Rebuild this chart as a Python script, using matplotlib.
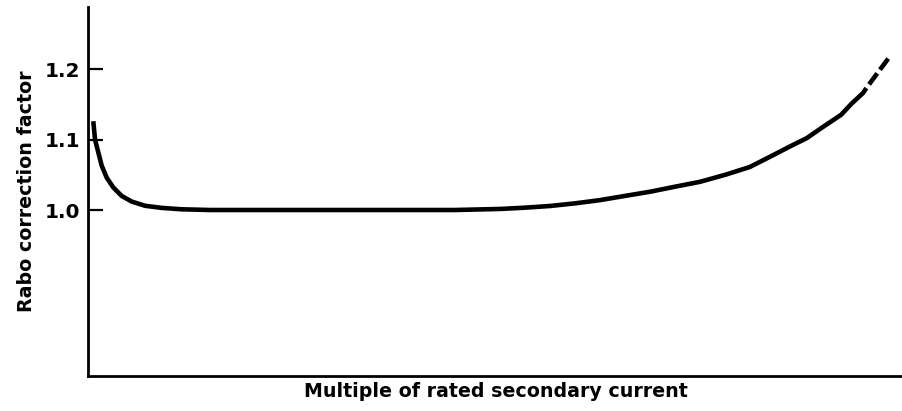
import matplotlib.pyplot as plt

# curve (x in arbitrary units, 0..100 across the axis)
curve_x = [0.65, 0.86, 1.26, 1.68, 2.29, 3.1, 4.13, 5.36, 7.0, 9.04, 11.5, 15, 25, 35, 45,
           50.6, 53.6, 56.7, 59.8, 62.8, 65.9, 69.0, 72.0, 75.1, 78.2, 81.2, 84.1, 86.1,
           88.2, 90.2, 92.4, 93.7, 95.1, 95.5]
curve_y = [1.126, 1.10, 1.082, 1.063, 1.046, 1.032, 1.020, 1.012, 1.006, 1.003, 1.001, 1.0,
           1.0, 1.0, 1.0, 1.0015, 1.0033, 1.0057, 1.0095, 1.014, 1.020, 1.026, 1.033, 1.040,
           1.050, 1.061, 1.078, 1.09, 1.102, 1.118, 1.135, 1.151, 1.166, 1.173]
# dashed continuation at the top end
dash_x = [95.5, 98.2]
dash_y = [1.173, 1.215]

y_ticks = [1.0, 1.1, 1.2]
y_tick_labels = ['1.0', '1.1', '1.2']


def main():
    fig = plt.figure(figsize=(9.03, 4.11), dpi=100)
    ax = fig.add_axes([88 / 903, 35 / 411, 815 / 903, 369 / 411])

    ax.plot(curve_x, curve_y, color='k', lw=3.3, solid_capstyle='butt',
            solid_joinstyle='round')
    ax.plot(dash_x, dash_y, color='k', lw=3.3, linestyle=(3.0, (3.0, 1.0)),
            dash_capstyle='butt')

    ax.set_xlim(0, 100)
    ax.set_ylim(0.7645, 1.288)

    ax.spines['top'].set_visible(False)
    ax.spines['right'].set_visible(False)
    ax.spines['left'].set_linewidth(2.0)
    ax.spines['bottom'].set_linewidth(2.0)

    ax.set_xticks([])
    ax.set_yticks(y_ticks)
    ax.set_yticklabels(y_tick_labels, fontsize=14.5, fontweight='bold')
    ax.yaxis.set_tick_params(direction='in', length=11, width=1.6, pad=5.5)

    ax.set_ylabel('Rabo correction factor', fontsize=13.7, fontweight='bold')
    ax.yaxis.set_label_coords(-52 / 815, 0.5)
    ax.set_xlabel('Multiple of rated secondary current', fontsize=13.7,
                  fontweight='bold')
    ax.xaxis.set_label_coords(0.5, -6 / 369)

    fig.savefig('out.png', dpi=100)


if __name__ == '__main__':
    main()
